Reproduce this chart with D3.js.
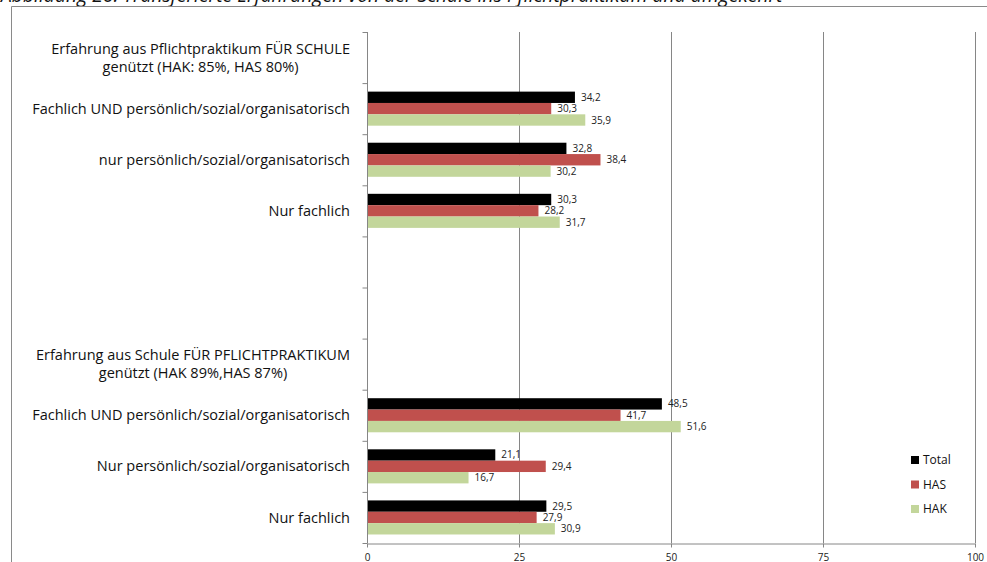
<!DOCTYPE html>
<html><head><meta charset="utf-8">
<script src="https://cdn.jsdelivr.net/npm/d3@7"></script>
<style>body{margin:0;background:#fff;}svg{display:block;}</style>
</head><body>
<svg id="c" width="987" height="562"></svg>
<script>
const title = "Abbildung 26: Transferierte Erfahrungen von der Schule ins Pflichtpraktikum und umgekehrt";
const categories = [
  "Erfahrung aus Pflichtpraktikum FÜR SCHULE\ngenützt (HAK: 85%, HAS 80%)",
  "Fachlich UND persönlich/sozial/organisatorisch",
  "nur persönlich/sozial/organisatorisch",
  "Nur fachlich",
  "",
  "",
  "Erfahrung aus Schule FÜR PFLICHTPRAKTIKUM\ngenützt (HAK 89%,HAS 87%)",
  "Fachlich UND persönlich/sozial/organisatorisch",
  "Nur persönlich/sozial/organisatorisch",
  "Nur fachlich"
];
const seriesNames = ["Total", "HAS", "HAK"];
const total = [null, 34.2, 32.8, 30.3, null, null, null, 48.5, 21.1, 29.5];
const has   = [null, 30.3, 38.4, 28.2, null, null, null, 41.7, 29.4, 27.9];
const hak   = [null, 35.9, 30.2, 31.7, null, null, null, 51.6, 16.7, 30.9];
const xTicks = [0, 25, 50, 75, 100];
const colors = ["#000000", "#C0504D", "#C3D69B"];
const series = [total, has, hak];

const svg = d3.select("#c");
const font = "'Open Sans', 'Noto Sans', sans-serif";
const L = 367, R = 975, T = 32, B = 543;

// title (cut at top)
const tt = svg.append("text").attr("x", 1).attr("y", 1.5).attr("font-family", font)
  .attr("font-style", "italic").attr("font-size", 15).attr("fill", "#111").text(title);
tt.attr("font-size", 15 * 782 / tt.node().getComputedTextLength());

// frame
svg.append("path").attr("d", "M11.5,562 V6.5 H987").attr("fill", "none").attr("stroke", "#8a8a8a").attr("stroke-width", 1);

const x = d3.scaleLinear().domain([0, 100]).range([L, R]);
const keys = categories.map((d, i) => i);
const y = d3.scaleBand().domain(keys).range([T, B]).paddingInner(0).paddingOuter(0);
const yb = d3.scaleLinear().domain([0, categories.length]).range([T, B]);
const inner = d3.scaleBand().domain(d3.range(series.length)).range([0, y.bandwidth()]).paddingOuter(0.75).paddingInner(0);

// gridlines
svg.append("g").selectAll("line").data(xTicks.filter(d => d > 0)).join("line")
  .attr("x1", d => Math.round(x(d)) + 0.5).attr("x2", d => Math.round(x(d)) + 0.5)
  .attr("y1", T).attr("y2", B).attr("stroke", "#868686");

// bars
series.forEach((vals, si) => {
  const g = svg.append("g");
  const data = vals.map((v, i) => ({v, i})).filter(d => d.v != null);
  g.selectAll("rect").data(data).join("rect")
    .attr("x", x(0)).attr("y", d => y(d.i) + inner(si))
    .attr("width", d => x(d.v) - x(0)).attr("height", inner.bandwidth())
    .attr("fill", colors[si]);
  g.selectAll("text").data(data).join("text")
    .attr("x", d => x(d.v) + 6).attr("y", d => y(d.i) + inner(si) + inner.bandwidth() / 2)
    .attr("dy", "0.35em").attr("font-family", font).attr("font-size", 10).attr("fill", "#222")
    .text(d => d3.format(".1f")(d.v).replace(".", ","));
});

// y axis (ticks at band boundaries)
const ya = svg.append("g").attr("transform", `translate(${L + 0.5},0)`)
  .call(d3.axisLeft(yb).tickValues(d3.range(categories.length + 1)).tickSize(5).tickFormat(""));
ya.selectAll("path,line").attr("stroke", "#868686");
ya.select(".domain").attr("d", `M0,${T}V${B}`);

// x axis
const xa = svg.append("g").attr("transform", `translate(0,${B + 0.5})`)
  .call(d3.axisBottom(x).tickValues(xTicks).tickSize(4).tickSizeOuter(0).tickPadding(6).tickFormat(d3.format("d")));
xa.selectAll("path,line").attr("stroke", "#868686");
xa.selectAll("text").attr("font-family", font).attr("font-size", 10).attr("fill", "#222");

// category labels
const lab = svg.append("g").attr("font-family", font).attr("font-size", 15).attr("fill", "#111");
categories.forEach((c, i) => {
  if (!c) return;
  const lines = c.split("\n");
  const cy = y(i) + y.bandwidth() / 2;
  const t = lab.append("text").attr("y", cy);
  lines.forEach((ln, k) => {
    t.append("tspan").attr("x", 350).attr("y", cy + (k - (lines.length - 1) / 2) * 18).attr("dy", "0.35em").text(ln);
  });
  t.attr("class", lines.length > 1 ? "multi" : "single");
});
// fit label font so the longest label matches the reference width
const longest = d3.max(lab.selectAll("tspan").nodes(), n => n.getComputedTextLength());
lab.attr("font-size", 15 * 318 / longest);
lab.selectAll("text").each(function() {
  const t = d3.select(this);
  if (t.classed("multi")) {
    const w = d3.max(t.selectAll("tspan").nodes(), n => n.getComputedTextLength());
    t.selectAll("tspan").attr("text-anchor", "middle").attr("x", 350 - w / 2);
  } else {
    t.attr("text-anchor", "end");
  }
});

// legend
const lg = svg.append("g").attr("font-family", font).attr("font-size", 12);
seriesNames.forEach((n, i) => {
  const ly = 460 + i * 24.5;
  lg.append("rect").attr("x", 911).attr("y", ly - 4).attr("width", 8).attr("height", 8).attr("fill", colors[i]);
  lg.append("text").attr("x", 923).attr("y", ly).attr("dy", "0.35em").attr("fill", "#111").text(n);
});
</script>
</body></html>
